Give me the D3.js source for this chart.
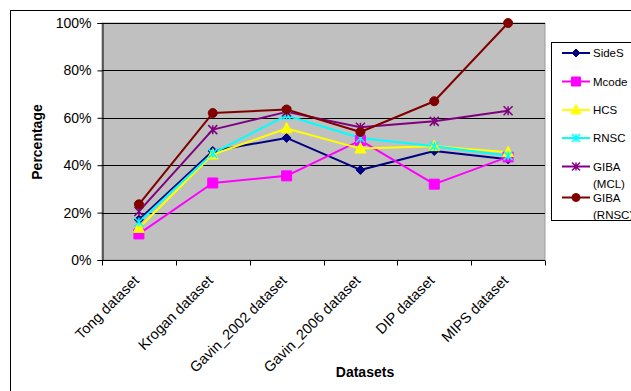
<!DOCTYPE html>
<html><head><meta charset="utf-8">
<script src="https://cdn.jsdelivr.net/npm/d3@7"></script>
<style>body{margin:0;background:#fff}svg{display:block;font-family:Arial,"Liberation Sans",sans-serif}</style>
</head><body><svg id="c" width="631" height="391"></svg>
<script>
const categories = ["Tong dataset","Krogan dataset","Gavin_2002 dataset","Gavin_2006 dataset","DIP dataset","MIPS dataset"];
const sideS   = [17, 46, 51.5, 38, 46, 42.5];
const mcode   = [11, 32.5, 35.5, 50.5, 32, 43.5];
const hcs     = [13.5, 44.5, 55.5, 47, 48, 45.5];
const rnsc    = [16, 45, 61, 51.5, 48, 44];
const gibaMCL = [20.5, 55, 62.5, 56, 58.5, 63];
const gibaRNSC= [23.5, 62, 63.5, 54, 67, 100];
const yTicks  = [0, 20, 40, 60, 80, 100];
const seriesNames = ["SideS","Mcode","HCS","RNSC","GIBA (MCL)","GIBA (RNSC)"];

const series = [
  {name:seriesNames[0], values:sideS, color:"#000080", marker:"diamond"},
  {name:seriesNames[1], values:mcode, color:"#FF00FF", marker:"square"},
  {name:seriesNames[2], values:hcs, color:"#FFFF00", marker:"triangle"},
  {name:seriesNames[3], values:rnsc, color:"#00FFFF", marker:"xstar"},
  {name:seriesNames[4], values:gibaMCL, color:"#800080", marker:"asterisk"},
  {name:seriesNames[5], values:gibaRNSC, color:"#800000", marker:"circle"}
];

const svg = d3.select("#c");
const L=102, R=545, T=23, B=260;

// outer border
svg.append("rect").attr("x",10.5).attr("y",10.5).attr("width",700).attr("height",500)
  .attr("fill","none").attr("stroke","#000").attr("stroke-width",1);

const x = d3.scaleBand().domain(categories).range([L,R]);
const y = d3.scaleLinear().domain([0,100]).range([B,T]);

// plot area
svg.append("rect").attr("x",L).attr("y",T).attr("width",R-L).attr("height",B-T)
  .attr("fill","#c0c0c0").attr("stroke","#9a9a9a");

// gridlines
svg.append("g").selectAll("line").data(yTicks.filter(d=>d>0)).join("line")
  .attr("x1",L).attr("x2",R).attr("y1",d=>Math.round(y(d))+0.5).attr("y2",d=>Math.round(y(d))+0.5)
  .attr("stroke","#000").attr("stroke-width",1);

// y axis
const yAxis = d3.axisLeft(y).tickValues(yTicks).tickFormat(d=>d+"%").tickSize(5).tickPadding(6);
const gy = svg.append("g").attr("transform",`translate(${L+0.5},0)`).call(yAxis);
gy.select(".domain").attr("stroke","#000");
gy.selectAll("text").attr("font-size","14px").attr("fill","#000").attr("font-family","Arial, 'Liberation Sans', sans-serif");

// x axis with ticks on band boundaries
const gx = svg.append("g").attr("transform",`translate(0,${B+0.5})`);
gx.append("line").attr("x1",L).attr("x2",R).attr("stroke","#000");
const bounds = categories.map(c=>x(c)).concat([R]);
gx.selectAll("line.tk").data(bounds).join("line").attr("class","tk")
  .attr("x1",d=>Math.round(d)+0.5).attr("x2",d=>Math.round(d)+0.5).attr("y1",0).attr("y2",5).attr("stroke","#000");
gx.selectAll("text").data(categories).join("text")
  .attr("transform",d=>`translate(${x(d)+x.bandwidth()/2+1},${21}) rotate(-45)`)
  .attr("text-anchor","end").attr("font-size","14.5px").attr("fill","#000")
  .text(d=>d);

// axis titles
svg.append("text").attr("transform","translate(42,142) rotate(-90)").attr("text-anchor","middle")
  .attr("font-size","14px").attr("font-weight","bold").text("Percentage");
svg.append("text").attr("x",365).attr("y",377).attr("text-anchor","middle")
  .attr("font-size","14px").attr("font-weight","bold").text("Datasets");

// markers
function markerPath(type, s){
  switch(type){
    case "diamond": return `M0,${-s}L${s},0L0,${s}L${-s},0Z`;
    case "square": return `M${-s},${-s}H${s}V${s}H${-s}Z`;
    case "triangle": return `M0,${-s*1.1}L${s},${s*0.8}L${-s},${s*0.8}Z`;
    case "xstar": return `M${-s},${-s}L${s},${s}M${s},${-s}L${-s},${s}M0,${-s}V${s}`;
    case "asterisk": return `M${-s},${-s}L${s},${s}M${s},${-s}L${-s},${s}M0,${-s}V${s}`;
    case "circle": return d3.symbol(d3.symbolCircle, s*s*3.14)();
  }
}
const filled = {diamond:true,square:true,triangle:true,circle:true,xstar:false,asterisk:false};
const size = {diamond:4.5,square:5,triangle:5.5,xstar:4.5,asterisk:4.5,circle:4.5};

const line = d3.line().x((d,i)=>x(categories[i])+x.bandwidth()/2).y(d=>y(d));
series.forEach(s=>{
  svg.append("path").datum(s.values).attr("d",line).attr("fill","none")
    .attr("stroke",s.color).attr("stroke-width",2).attr("stroke-linejoin","round");
});
series.forEach(s=>{
  svg.append("g").selectAll("path").data(s.values).join("path")
    .attr("transform",(d,i)=>`translate(${x(categories[i])+x.bandwidth()/2},${y(d)})`)
    .attr("d",markerPath(s.marker,size[s.marker]))
    .attr("fill",filled[s.marker]?s.color:"none")
    .attr("stroke",s.color).attr("stroke-width",filled[s.marker]?1:1.5);
});

// legend
const lg = svg.append("g");
lg.append("rect").attr("x",551.5).attr("y",42.5).attr("width",120).attr("height",178)
  .attr("fill","#fff").attr("stroke","#000");
const legY = [53, 81.5, 110, 138, 166.5, 197.5];
series.forEach((s,i)=>{
  const g = lg.append("g").attr("transform",`translate(0,${legY[i]})`);
  g.append("line").attr("x1",562).attr("x2",590).attr("stroke",s.color).attr("stroke-width",2);
  g.append("path").attr("transform","translate(576,0)").attr("d",markerPath(s.marker,size[s.marker]-0.5))
    .attr("fill",filled[s.marker]?s.color:"none").attr("stroke",s.color).attr("stroke-width",filled[s.marker]?1:1.5);
  const parts = s.name.split(" ");
  const t = g.append("text").attr("x",593).attr("y",4).attr("font-size","11.5px").attr("fill","#000");
  parts.forEach((p,j)=>t.append("tspan").attr("x",593).attr("dy",j===0?0:17).text(p));
});
</script></body></html>
